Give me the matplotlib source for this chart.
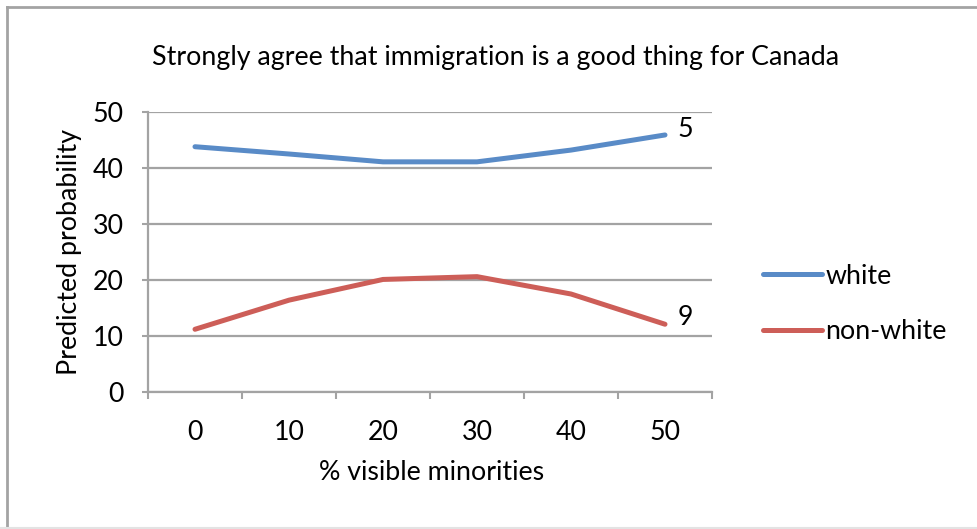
import matplotlib
matplotlib.use("Agg")
import matplotlib.pyplot as plt
from matplotlib.lines import Line2D
from matplotlib.ticker import FixedLocator

plt.rcParams["font.family"] = ["Lato", "DejaVu Sans"]

# predicted probabilities by share of visible minorities
pct_minorities = ["0", "10", "20", "30", "40", "50"]
white = [43.8, 42.5, 41.1, 41.1, 43.2, 45.9]
non_white = [11.2, 16.4, 20.1, 20.6, 17.5, 12.1]
series_names = ["white", "non-white"]
end_labels = ["5", "9"]
y_ticks = [0, 10, 20, 30, 40, 50]

BLUE = "#598BC7"
RED = "#CD5E58"
GRID = "#A3A3A3"
FS = 19.3

fig = plt.figure(figsize=(9.77, 5.29), dpi=100)
ax = fig.add_axes([148 / 977, 1 - 392 / 529, 564 / 977, 280 / 529])

x = list(range(len(pct_minorities)))
ax.plot(x, white, color=BLUE, lw=3.6, solid_capstyle="round",
        solid_joinstyle="round", label=series_names[0])
ax.plot(x, non_white, color=RED, lw=3.6, solid_capstyle="round",
        solid_joinstyle="round", label=series_names[1])

# labels next to the last point of each line
for ys, txt, dy in zip([white, non_white], end_labels, [4, 5]):
    ax.annotate(txt, (x[-1], ys[-1]), xytext=(9, dy), textcoords="offset points",
                ha="left", va="center", fontsize=FS)

ax.set_xlim(-0.5, len(x) - 0.5)
ax.set_ylim(0, 50)
ax.set_xticks(x)
ax.set_xticklabels(pct_minorities)
ax.xaxis.set_minor_locator(FixedLocator([i - 0.5 for i in range(len(x) + 1)]))
ax.tick_params(axis="x", which="major", length=0, pad=20, labelsize=FS)
ax.tick_params(axis="x", which="minor", length=5, width=1.5, color=GRID,
               direction="out")
ax.set_yticks(y_ticks)
ax.tick_params(axis="y", length=4.5, width=1.5, color=GRID, pad=13,
               labelsize=FS)

ax.yaxis.grid(True, color=GRID, lw=1.6)
ax.set_axisbelow(True)
for side in ["top", "right"]:
    ax.spines[side].set_visible(False)
for side in ["left", "bottom"]:
    ax.spines[side].set_color(GRID)
    ax.spines[side].set_linewidth(1.6)

fig.text(496 / 977, 1 - 57 / 529,
         "Strongly agree that immigration is a good thing for Canada",
         ha="center", va="center", fontsize=FS)
fig.text(432 / 977, 1 - 472 / 529, "% visible minorities",
         ha="center", va="center", fontsize=FS)
fig.text(69 / 977, 1 - 252 / 529, "Predicted probability", rotation=90,
         ha="center", va="center", fontsize=FS)

leg = ax.legend(loc="center left", bbox_to_anchor=(763 / 977, 1 - 304 / 529),
                bbox_transform=fig.transFigure, frameon=False, fontsize=FS,
                handlelength=2.2, handletextpad=0.13, labelspacing=1.15,
                borderpad=0, borderaxespad=0)

# outer chart frame
fig.add_artist(Line2D([7 / 977, 7 / 977], [0, 1 - 7 / 529], color=GRID, lw=2,
                      transform=fig.transFigure))
fig.add_artist(Line2D([7 / 977, 1], [1 - 7 / 529, 1 - 7 / 529], color=GRID,
                      lw=2, transform=fig.transFigure))
fig.add_artist(Line2D([0, 1], [1.5 / 529, 1.5 / 529], color="#E3E3E3", lw=1.5,
                      transform=fig.transFigure))
# descender of a letter from the text above the chart
fig.text(125 / 977, 1 + 10 / 529, "p", family="Liberation Serif", fontsize=18,
         ha="left", va="baseline")

fig.savefig("out.png", dpi=100)
